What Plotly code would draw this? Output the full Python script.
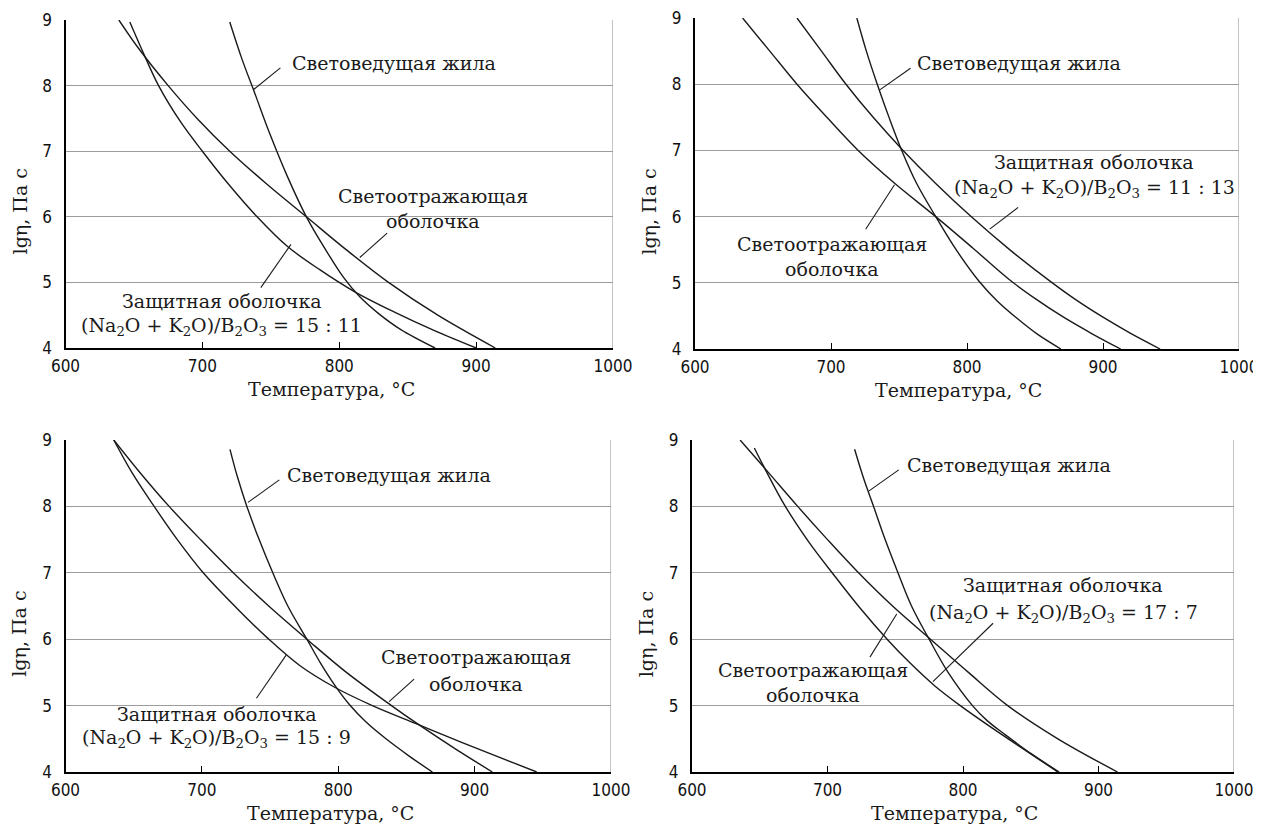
import plotly.graph_objects as go

W, H = 1261, 825
OFF = 8  # the page body adds an 8 px margin; place everything relative to the window

# ---------------- data ----------------
# Panel 1: (Na2O+K2O)/B2O3 = 15 : 11
p1_core_T = [720, 729, 738, 749, 762, 776, 790, 803, 815, 829, 845, 870]
p1_core_y = [8.97, 8.4, 7.9, 7.28, 6.62, 6.0, 5.5, 5.08, 4.78, 4.52, 4.28, 4.0]
p1_refl_T = [639, 654, 675, 697, 720, 747, 776, 805, 836, 872, 914]
p1_refl_y = [9.0, 8.55, 8.0, 7.48, 7.0, 6.5, 6.0, 5.5, 5.0, 4.5, 4.0]
p1_prot_T = [647, 656, 668, 684, 700, 719, 740, 762, 786, 811, 840, 870, 900]
p1_prot_y = [8.97, 8.54, 8.0, 7.45, 7.0, 6.5, 6.0, 5.55, 5.19, 4.86, 4.55, 4.26, 4.0]

# Panel 2: 11 : 13
p2_core_T = [719, 726, 734, 743, 752, 763, 777, 792, 809, 822, 837, 852, 869]
p2_core_y = [9.0, 8.5, 8.0, 7.48, 7.0, 6.5, 6.0, 5.5, 5.02, 4.73, 4.46, 4.22, 4.0]
p2_refl_T = [635, 655, 675, 697, 720, 747, 777, 804, 831, 851, 871, 892, 913]
p2_refl_y = [9.0, 8.5, 8.0, 7.5, 7.0, 6.5, 6.0, 5.53, 5.05, 4.75, 4.48, 4.23, 4.0]
p2_prot_T = [675, 693, 711, 731, 753, 777, 803, 832, 862, 881, 900, 920, 942]
p2_prot_y = [9.0, 8.5, 8.0, 7.5, 7.0, 6.5, 6.0, 5.49, 5.01, 4.73, 4.48, 4.24, 4.0]

# Panel 3: 15 : 9
p3_core_T = [720.6, 726, 733, 742, 752, 763, 777, 787, 797, 808, 820, 835, 852, 869]
p3_core_y = [8.86, 8.45, 8.0, 7.5, 7.0, 6.5, 6.0, 5.64, 5.32, 5.02, 4.76, 4.5, 4.24, 4.0]
p3_refl_T = [635.4, 655, 676, 699, 723, 749, 777, 806, 839, 858.5, 885, 913]
p3_refl_y = [9.0, 8.5, 8.0, 7.5, 7.0, 6.5, 6.0, 5.5, 5.0, 4.72, 4.36, 4.0]
p3_prot_T = [635.4, 649, 665, 682, 701, 724, 748, 772, 797, 825, 858, 890, 945.5]
p3_prot_y = [9.0, 8.5, 8.0, 7.5, 7.0, 6.5, 6.02, 5.6, 5.28, 5.0, 4.72, 4.45, 4.0]

# Panel 4: 17 : 7
p4_core_T = [720, 727, 734, 742, 752, 762, 775, 789, 807, 818, 830, 850, 871]
p4_core_y = [8.86, 8.4, 8.0, 7.53, 7.0, 6.5, 6.0, 5.5, 5.0, 4.77, 4.58, 4.28, 4.0]
p4_refl_T = [635.5, 656, 678, 700, 722, 748, 776, 804, 833, 870, 914]
p4_refl_y = [9.0, 8.52, 8.0, 7.5, 7.02, 6.5, 6.0, 5.5, 5.0, 4.5, 4.0]
p4_prot_T = [646, 655, 668, 686, 705, 724, 744, 761, 779, 798, 826, 848, 870]
p4_prot_y = [8.88, 8.52, 8.03, 7.47, 6.96, 6.47, 6.0, 5.64, 5.3, 5.0, 4.6, 4.3, 4.0]

x_ticks = [600, 700, 800, 900, 1000]
y_ticks = [4, 5, 6, 7, 8, 9]

lbl_core = "Световедущая жила"
lbl_refl = ["Светоотражающая", "оболочка"]
lbl_prot = "Защитная оболочка"
ratios = ["15 : 11", "11 : 13", "15 : 9", "17 : 7"]
x_title = "Температура, °C"
y_title = "lgη, Па с"

# ---------------- layout helpers ----------------
SERIF = "DejaVu Serif, Liberation Serif, serif"
NARROW = "Liberation Sans Narrow, DejaVu Sans Condensed, Liberation Sans, sans-serif"
INK = "#1a1a1a"

def px(xp):
    return (xp - OFF) / W

def py_(yp):
    return 1 - (yp - OFF) / H

# pixel boxes of the plot areas in the window: (left, right, top, bottom)
boxes = [(65.5, 613, 20, 348), (695, 1239, 18, 349), (65.5, 611, 440, 772), (692, 1234, 440, 772)]

fig = go.Figure()

panels = [
    (p1_core_T, p1_core_y, p1_refl_T, p1_refl_y, p1_prot_T, p1_prot_y),
    (p2_core_T, p2_core_y, p2_refl_T, p2_refl_y, p2_prot_T, p2_prot_y),
    (p3_core_T, p3_core_y, p3_refl_T, p3_refl_y, p3_prot_T, p3_prot_y),
    (p4_core_T, p4_core_y, p4_refl_T, p4_refl_y, p4_prot_T, p4_prot_y),
]

annotations = []
shapes = []

def ratio_text(r):
    return "(Na<sub>2</sub>O + K<sub>2</sub>O)/B<sub>2</sub>O<sub>3</sub> = " + r

label_cfg = [
    dict(core=(763.8, 8.34), core_ptr=(757, 8.27, 737.4, 7.94),
         refl=[(868.7, 6.31), (868.7, 5.93)], refl_ptr=(835, 5.75, 815, 5.38),
         prot=[(714, 4.71), (714, 4.33)], prot_ptr=(742.7, 4.92, 764.7, 5.58)),
    dict(core=(762, 8.32), core_ptr=(758.5, 8.24, 735.6, 7.91),
         refl=[(701, 5.59), (701, 5.21)], refl_ptr=(725.5, 5.81, 746.7, 6.48),
         prot=[(893.7, 6.83), (893.7, 6.43)], prot_ptr=(837.6, 6.14, 816.7, 5.81)),
    dict(core=(760.7, 8.47), core_ptr=(756.8, 8.40, 733.8, 8.06),
         refl=[(900.7, 5.73), (900.7, 5.32)], refl_ptr=(855.6, 5.40, 837.3, 5.06),
         prot=[(711, 4.87), (711, 4.50)], prot_ptr=(740, 5.11, 761.8, 5.76)),
    dict(core=(757, 8.62), core_ptr=(752.6, 8.55, 730.4, 8.23),
         refl=[(689, 5.54), (689, 5.16)], refl_ptr=(731.3, 5.73, 751.1, 6.38),
         prot=[(874, 6.81), (874, 6.38)], prot_ptr=(822.2, 6.24, 777.8, 5.36)),
]

tf = dict(family=SERIF, size=19, color=INK)

for i, (panel, box, cfg, rat) in enumerate(zip(panels, boxes, label_cfg, ratios)):
    n = "" if i == 0 else str(i + 1)
    xa, ya = "x" + n, "y" + n
    cT, cy, rT, ry, pT, pyv = panel
    for T, y in ((cT, cy), (rT, ry), (pT, pyv)):
        fig.add_trace(go.Scatter(x=T, y=y, mode="lines", xaxis=xa, yaxis=ya,
                                 line=dict(color=INK, width=1.4, shape="spline", smoothing=1.0),
                                 showlegend=False, hoverinfo="skip"))
    l, r, t, b = box
    fig.update_layout(**{
        "xaxis" + n: dict(domain=[px(l), px(r)], anchor=ya, range=[600, 1000], automargin=False,
                          tickvals=x_ticks, ticks="inside", ticklen=6, tickwidth=1, tickcolor="#000",
                          showline=True, linecolor="#000", linewidth=2, showgrid=False, zeroline=False,
                          ticklabeloverflow="allow",
                          tickfont=dict(family=NARROW, size=17, color="#111"), ticklabelstandoff=2),
        "yaxis" + n: dict(domain=[py_(b), py_(t)], anchor=xa, range=[4, 9], automargin=False,
                          tickvals=y_ticks, ticks="", showline=True, linecolor="#000", linewidth=2,
                          showgrid=True, gridcolor="#9c9c9c", gridwidth=1.2, zeroline=False,
                          ticklabeloverflow="allow",
                          tickfont=dict(family=NARROW, size=17, color="#111"), ticklabelstandoff=8),
    })
    shapes.append(dict(type="line", xref=xa, yref=ya, x0=1000, x1=1000, y0=4, y1=9,
                       line=dict(color="#9c9c9c", width=1.2)))
    annotations.append(dict(text=x_title, xref="paper", yref="paper",
                            x=px(l + (r - l) * 0.485), y=py_(b + 41),
                            xanchor="center", yanchor="middle",
                            showarrow=False, font=tf))
    annotations.append(dict(text=y_title, xref="paper", yref="paper", textangle=-90,
                            x=px(l - 46), y=py_(t + (b - t) * 0.585),
                            xanchor="center", yanchor="middle",
                            showarrow=False, font=tf))
    cx, cyy = cfg["core"]
    annotations.append(dict(text=lbl_core, xref=xa, yref=ya, x=cx, y=cyy, xanchor="left",
                            yanchor="middle", showarrow=False, font=tf))
    for (tx, ty), txt in zip(cfg["refl"], lbl_refl):
        annotations.append(dict(text=txt, xref=xa, yref=ya, x=tx, y=ty, xanchor="center",
                                yanchor="middle", showarrow=False, font=tf))
    for (tx, ty), txt in zip(cfg["prot"], [lbl_prot, ratio_text(rat)]):
        annotations.append(dict(text=txt, xref=xa, yref=ya, x=tx, y=ty, xanchor="center",
                                yanchor="middle", showarrow=False, font=tf))
    for key in ("core_ptr", "refl_ptr", "prot_ptr"):
        x0, y0, x1, y1 = cfg[key]
        shapes.append(dict(type="line", xref=xa, yref=ya, x0=x0, y0=y0, x1=x1, y1=y1,
                           line=dict(color=INK, width=1.1)))

fig.update_layout(width=W, height=H, margin=dict(l=0, r=0, t=0, b=0, autoexpand=False),
                  paper_bgcolor="white", plot_bgcolor="white",
                  annotations=annotations, shapes=shapes)

fig.write_html("out.html")
